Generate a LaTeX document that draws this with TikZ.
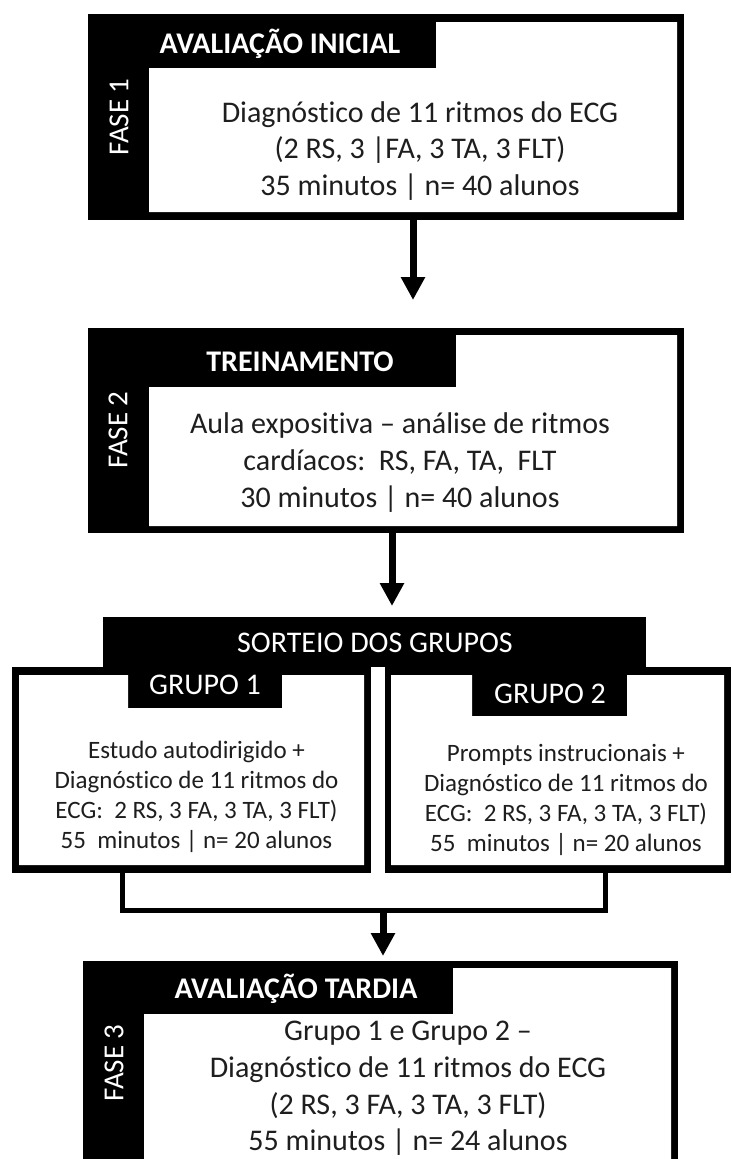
\documentclass[tikz,border=0pt]{standalone}
\usepackage{fontspec}
\setmainfont{Carlito}[Ligatures={NoCommon,NoContextual,NoRare},RawFeature=-calt]
\usetikzlibrary{arrows.meta}
\definecolor{ink}{RGB}{30,30,30}
\newcommand\myti{t\kern0pt i}
\begin{document}
\begin{tikzpicture}[x=1pt,y=-1pt,
  blk/.style={rectangle,fill=black,draw=none,inner sep=0pt,outer sep=0pt},
  inner/.style={fill=white,draw=none},
  body/.style={anchor=base,inner sep=0pt,text=ink,font=\fontsize{30}{36}\selectfont},
  gbody/.style={anchor=base,inner sep=0pt,text=ink,font=\fontsize{25}{30}\selectfont},
  ttl/.style={anchor=base,inner sep=0pt,text=white,font=\fontsize{30}{36}\selectfont\bfseries},
  wlab/.style={anchor=base,inner sep=0pt,text=white,font=\fontsize{30}{36}\selectfont},
  fase/.style={anchor=center,inner sep=0pt,text=white,rotate=90,font=\fontsize{29}{34}\selectfont},
  arr/.style={line width=7pt,-{Triangle[length=23pt,width=23pt]}},
  conn/.style={line width=5pt,line join=miter}
]
\useasboundingbox (0,0) rectangle (731,1159);

% ---------- FASE 1 ----------
\node[blk,minimum width=596pt,minimum height=206pt] (p1) at (386,117) {};
\fill[inner] (149,68) -- (436,68) -- (436,22) -- (677,22) -- (677,212) -- (149,212) -- cycle;
\node[ttl] (h1) at (280,53) {AVALIAÇÃO INICIAL};
\node[fase] (f1) at (119,117) {FASE 1};
\node[body] (t1a) at (420,122) {Diagnós\myti co de 11 ritmos do ECG};
\node[body] (t1b) at (420,158.5) {(2 RS, 3 |FA, 3 TA, 3 FLT)};
\node[body] (t1c) at (420,195) {35 minutos | n= 40 alunos};

% ---------- FASE 2 ----------
\node[blk,minimum width=596pt,minimum height=205pt] (p2) at (386,430.5) {};
\fill[inner] (149,387) -- (456,387) -- (456,335) -- (677,335) -- (677,526) -- (149,526) -- cycle;
\node[ttl] (h2) at (300,371) {TREINAMENTO};
\node[fase] (f2) at (118,430) {FASE 2};
\node[body] (t2a) at (400,433) {Aula exposi\myti va – análise de ritmos};
\node[body] (t2b) at (400,470) {cardíacos:\ \ RS, FA, TA,\ \ FLT};
\node[body] (t2c) at (400,507) {30 minutos | n= 40 alunos};

% ---------- SORTEIO ----------
\node[blk,minimum width=543pt,minimum height=50pt] (sort) at (374.5,642) {};
\node[wlab] (hs) at (375,652) {SORTEIO DOS GRUPOS};

% ---------- GRUPO 1 ----------
\node[blk,minimum width=359pt,minimum height=206pt] (g1) at (191.5,770) {};
\fill[inner] (19,675) -- (128,675) -- (128,708) -- (282,708) -- (282,675) -- (364,675) -- (364,865) -- (19,865) -- cycle;
\node[wlab] (hg1) at (205,694) {GRUPO 1};
\node[gbody] (g1a) at (196.5,758) {Estudo autodirigido +};
\node[gbody] (g1b) at (196.5,788) {Diagnós\myti co de 11 ritmos do};
\node[gbody] (g1c) at (196.5,818) {ECG:\ \ 2 RS, 3 FA, 3 TA, 3 FLT)};
\node[gbody] (g1d) at (196.5,848) {55\ \ minutos | n= 20 alunos};

% ---------- GRUPO 2 ----------
\node[blk,minimum width=346pt,minimum height=206pt] (g2) at (558,770) {};
\fill[inner] (391,675) -- (472,675) -- (472,716) -- (627,716) -- (627,675) -- (724,675) -- (724,865) -- (391,865) -- cycle;
\node[wlab] (hg2) at (550,703) {GRUPO 2};
\node[gbody] (g2a) at (566,761) {Prompts instrucionais +};
\node[gbody] (g2b) at (566,791) {Diagnós\myti co de 11 ritmos do};
\node[gbody] (g2c) at (566,821) {ECG:\ \ 2 RS, 3 FA, 3 TA, 3 FLT)};
\node[gbody] (g2d) at (566,851) {55\ \ minutos | n= 20 alunos};

% ---------- FASE 3 ----------
\node[blk,minimum width=595pt,minimum height=209pt] (p3) at (380.5,1065.5) {};
\fill[inner] (144,1014) -- (453,1014) -- (453,968) -- (671,968) -- (671,1170) -- (144,1170) -- cycle;
\node[ttl] (h3) at (296,998) {AVALIAÇÃO TARDIA};
\node[fase] (f3) at (114,1063) {FASE 3};
\node[body] (t3a) at (408,1040) {Grupo 1 e Grupo 2 –};
\node[body] (t3b) at (408,1077) {Diagnós\myti co de 11 ritmos do ECG};
\node[body] (t3c) at (408,1114) {(2 RS, 3 FA, 3 TA, 3 FLT)};
\node[body] (t3d) at (408,1150) {55 minutos | n= 24 alunos};

% ---------- connectors ----------
\coordinate (a1) at (413,300);
\coordinate (a2) at (392,606);
\coordinate (c1) at (122,910);
\coordinate (c2) at (605,910);
\coordinate (a3) at (383,956);
\draw[arr] (p1.south -| a1) -- (a1);
\draw[arr] (p2.south -| a2) -- (a2);
\draw[conn] (g1.south -| c1) -- (c1) -- (c2) -- (g2.south -| c2);
\draw[arr] (a3 |- c1) -- (a3);
\end{tikzpicture}
\end{document}
